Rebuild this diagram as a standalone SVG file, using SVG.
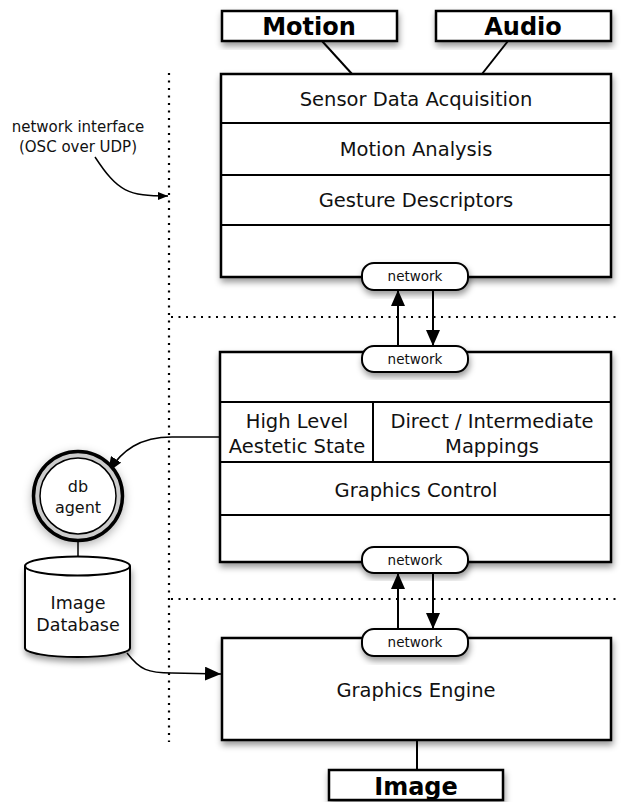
<svg xmlns="http://www.w3.org/2000/svg" width="621" height="802" viewBox="0 0 621 802">
  <defs>
    <filter id="shadow" x="-20%" y="-20%" width="140%" height="150%">
      <feDropShadow dx="1" dy="4" stdDeviation="3" flood-color="#000" flood-opacity="0.4"/>
    </filter>
    <filter id="glow" x="-40%" y="-40%" width="180%" height="180%">
      <feDropShadow dx="0" dy="3" stdDeviation="5" flood-color="#000" flood-opacity="0.3"/>
    </filter>
    <marker id="arrow" viewBox="0 0 15 12" refX="15" refY="6" markerWidth="15" markerHeight="12" markerUnits="userSpaceOnUse" orient="auto">
      <path d="M0,0 L15,6 L0,12 Z" fill="#000"/>
    </marker>
    <marker id="arrowBig" viewBox="0 0 16 14" refX="16" refY="7" markerWidth="16" markerHeight="14" markerUnits="userSpaceOnUse" orient="auto">
      <path d="M0,0 L16,7 L0,14 Z" fill="#000"/>
    </marker>
    <marker id="arrowSmall" viewBox="0 0 10 8" refX="10" refY="4" markerWidth="10" markerHeight="8" markerUnits="userSpaceOnUse" orient="auto">
      <path d="M0,0 L10,4 L0,8 Z" fill="#000"/>
    </marker>
  </defs>
  <style>
    .box { fill: #fff; stroke: #000; stroke-width: 2.5; }
    .row { stroke: #000; stroke-width: 2; fill: none; }
    .pill { fill: #fff; stroke: #000; stroke-width: 2; }
    .wire { stroke: #000; stroke-width: 2; fill: none; }
    .thin { stroke: #000; stroke-width: 1.5; fill: none; }
    .dots { stroke: #000; stroke-width: 2.2; fill: none; stroke-dasharray: 2 5.5; }
    text { font-family: "DejaVu Sans", Verdana, sans-serif; fill: #111; text-anchor: middle; }
    .main { font-size: 19.5px; }
    .small { font-size: 13.5px; }
    .note { font-size: 15px; }
    .io { font-size: 24px; font-weight: bold; fill: #000; }
  </style>

  <!-- layer boundaries -->
  <g id="boundaries">
    <line class="dots" x1="169" y1="73" x2="169" y2="742"/>
    <line class="dots" x1="171" y1="317" x2="621" y2="317"/>
    <line class="dots" x1="171" y1="599" x2="621" y2="599"/>
  </g>

  <!-- connectors -->
  <g id="connectors">
    <line class="wire" x1="322" y1="41" x2="352" y2="74"/>
    <line class="wire" x1="508" y1="41" x2="482" y2="74"/>
    <line class="wire" x1="398" y1="346" x2="398" y2="290" marker-end="url(#arrowBig)"/>
    <line class="wire" x1="433" y1="290" x2="433" y2="346" marker-end="url(#arrowBig)"/>
    <line class="wire" x1="398" y1="629" x2="398" y2="573" marker-end="url(#arrowBig)"/>
    <line class="wire" x1="433" y1="573" x2="433" y2="629" marker-end="url(#arrowBig)"/>
    <line class="wire" x1="417" y1="740" x2="417" y2="770"/>
    <line class="thin" x1="78" y1="540" x2="78" y2="557"/>
    <path class="thin" d="M219,437 L172,437 C140,437 122,450 108,472" marker-end="url(#arrow)"/>
    <path class="thin" d="M127,653 C140,670 148,673 172,673 L221,674" marker-end="url(#arrowBig)"/>
    <path class="thin" d="M95,157 C118,192 128,196 168,196" marker-end="url(#arrowSmall)"/>
  </g>

  <!-- inputs -->
  <g id="motion">
    <rect class="box" x="222" y="11" width="175" height="30" filter="url(#shadow)"/>
    <text class="io" x="309" y="35">Motion</text>
  </g>
  <g id="audio">
    <rect class="box" x="436" y="11" width="175" height="30" filter="url(#shadow)"/>
    <text class="io" x="523" y="35">Audio</text>
  </g>

  <!-- sensing layer -->
  <g id="analysis-stack">
    <rect class="box" x="221" y="74" width="390" height="203" filter="url(#shadow)"/>
    <line class="row" x1="221" y1="123" x2="611" y2="123"/>
    <line class="row" x1="221" y1="175" x2="611" y2="175"/>
    <line class="row" x1="221" y1="225" x2="611" y2="225"/>
    <text class="main" x="416" y="106">Sensor Data Acquisition</text>
    <text class="main" x="416" y="156">Motion Analysis</text>
    <text class="main" x="416" y="207">Gesture Descriptors</text>
  </g>
  <g id="net-1">
    <rect class="pill" x="362" y="263" width="106" height="27" rx="12" filter="url(#shadow)"/>
    <text class="small" x="415" y="281">network</text>
  </g>

  <!-- mapping layer -->
  <g id="mapping-stack">
    <rect class="box" x="220" y="352" width="391" height="210" filter="url(#shadow)"/>
    <line class="row" x1="220" y1="402" x2="611" y2="402"/>
    <line class="row" x1="220" y1="462" x2="611" y2="462"/>
    <line class="row" x1="220" y1="515" x2="611" y2="515"/>
    <line class="row" x1="373" y1="402" x2="373" y2="462"/>
    <text class="main" x="297" y="428">High Level</text>
    <text class="main" x="297" y="453">Aestetic State</text>
    <text class="main" x="492" y="428">Direct / Intermediate</text>
    <text class="main" x="492" y="453">Mappings</text>
    <text class="main" x="416" y="497">Graphics Control</text>
  </g>
  <g id="net-2">
    <rect class="pill" x="362" y="346" width="106" height="26" rx="12" filter="url(#shadow)"/>
    <text class="small" x="415" y="364">network</text>
  </g>
  <g id="net-3">
    <rect class="pill" x="362" y="547" width="106" height="26" rx="12" filter="url(#shadow)"/>
    <text class="small" x="415" y="565">network</text>
  </g>

  <!-- rendering layer -->
  <g id="graphics-engine">
    <rect class="box" x="222" y="638" width="389" height="102" filter="url(#shadow)"/>
    <text class="main" x="416" y="697">Graphics Engine</text>
  </g>
  <g id="net-4">
    <rect class="pill" x="362" y="629" width="106" height="27" rx="12" filter="url(#shadow)"/>
    <text class="small" x="415" y="647">network</text>
  </g>
  <g id="image">
    <rect class="box" x="329" y="770" width="174" height="30" filter="url(#shadow)"/>
    <text class="io" x="416" y="795">Image</text>
  </g>

  <!-- database side -->
  <g id="db-agent">
    <circle cx="78" cy="496" r="44.5" fill="#ccc" stroke="#000" stroke-width="3.5" filter="url(#glow)"/>
    <circle cx="78" cy="496" r="38" fill="#fff" stroke="#000" stroke-width="1.5"/>
    <text x="78" y="492" font-size="16">db</text>
    <text x="78" y="513" font-size="16">agent</text>
  </g>
  <g id="image-database">
    <path d="M25,566 L25,648 A52.5,9 0 0 0 130,648 L130,566" fill="#fff" stroke="#000" stroke-width="2" filter="url(#shadow)"/>
    <ellipse cx="77.5" cy="566" rx="52.5" ry="9.5" fill="#fff" stroke="#000" stroke-width="2"/>
    <text x="78" y="609" font-size="17.5">Image</text>
    <text x="78" y="631" font-size="17.5">Database</text>
  </g>

  <!-- annotation -->
  <g id="network-interface-note">
    <text class="note" x="78" y="132">network interface</text>
    <text class="note" x="78" y="152">(OSC over UDP)</text>
  </g>
</svg>
